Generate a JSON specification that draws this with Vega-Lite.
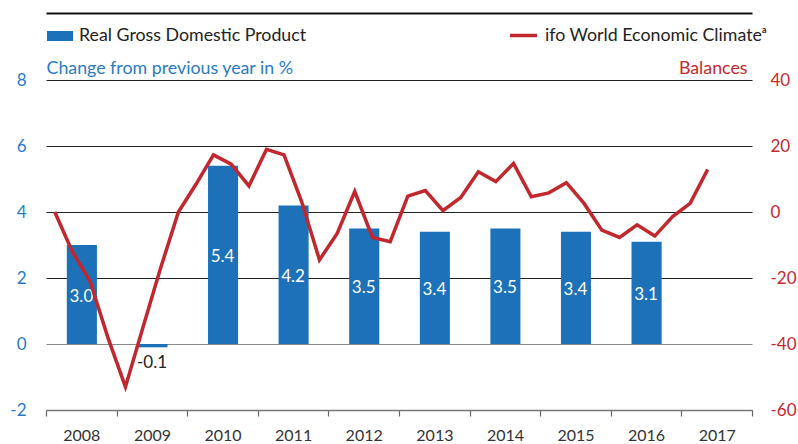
{
  "$schema": "https://vega.github.io/schema/vega-lite/v6.json",
  "width": 706,
  "height": 330,
  "autosize": {"type": "none"},
  "padding": {"left": 46, "top": 80, "right": 46, "bottom": 34},
  "config": {
    "view": {"stroke": null},
    "font": "Lato",
    "legend": {"padding": 0, "labelFont": "Lato", "labelFontSize": 17.8, "labelColor": "#222222", "labelLimit": 400, "labelOffset": 6}
  },
  "datasets": {
    "gdp": [
      {"year": "2008", "gdp": 3.0},
      {"year": "2009", "gdp": -0.1},
      {"year": "2010", "gdp": 5.4},
      {"year": "2011", "gdp": 4.2},
      {"year": "2012", "gdp": 3.5},
      {"year": "2013", "gdp": 3.4},
      {"year": "2014", "gdp": 3.5},
      {"year": "2015", "gdp": 3.4},
      {"year": "2016", "gdp": 3.1}
    ],
    "climate": [
      {"quarter": "2008-01-01", "climate": 0},
      {"quarter": "2008-04-01", "climate": -12},
      {"quarter": "2008-07-01", "climate": -21},
      {"quarter": "2008-10-01", "climate": -38},
      {"quarter": "2009-01-01", "climate": -53},
      {"quarter": "2009-04-01", "climate": -35},
      {"quarter": "2009-07-01", "climate": -17},
      {"quarter": "2009-10-01", "climate": 0},
      {"quarter": "2010-01-01", "climate": 8.4},
      {"quarter": "2010-04-01", "climate": 17.3},
      {"quarter": "2010-07-01", "climate": 14.5},
      {"quarter": "2010-10-01", "climate": 7.9},
      {"quarter": "2011-01-01", "climate": 19},
      {"quarter": "2011-04-01", "climate": 17.3},
      {"quarter": "2011-07-01", "climate": 3.1},
      {"quarter": "2011-10-01", "climate": -14.5},
      {"quarter": "2012-01-01", "climate": -6.5},
      {"quarter": "2012-04-01", "climate": 6.2},
      {"quarter": "2012-07-01", "climate": -7.7},
      {"quarter": "2012-10-01", "climate": -9},
      {"quarter": "2013-01-01", "climate": 4.8},
      {"quarter": "2013-04-01", "climate": 6.5},
      {"quarter": "2013-07-01", "climate": 0.4},
      {"quarter": "2013-10-01", "climate": 4.4},
      {"quarter": "2014-01-01", "climate": 12.2},
      {"quarter": "2014-04-01", "climate": 9.2},
      {"quarter": "2014-07-01", "climate": 14.7},
      {"quarter": "2014-10-01", "climate": 4.6},
      {"quarter": "2015-01-01", "climate": 5.8},
      {"quarter": "2015-04-01", "climate": 8.9},
      {"quarter": "2015-07-01", "climate": 2.6},
      {"quarter": "2015-10-01", "climate": -5.5},
      {"quarter": "2016-01-01", "climate": -7.7},
      {"quarter": "2016-04-01", "climate": -3.9},
      {"quarter": "2016-07-01", "climate": -7.3},
      {"quarter": "2016-10-01", "climate": -1.4},
      {"quarter": "2017-01-01", "climate": 2.6},
      {"quarter": "2017-04-01", "climate": 12.9}
    ]
  },
  "resolve": {"scale": {"y": "independent"}, "axis": {"x": "independent", "y": "independent"}},
  "layer": [
    {
      "data": {"name": "gdp"},
      "mark": {"type": "bar", "width": {"band": 0.44}},
      "encoding": {
        "x": {
          "field": "year", "type": "temporal", "timeUnit": "utcyear",
          "scale": {"type": "utc", "domain": [{"year": 2008, "utc": true}, {"year": 2018, "utc": true}]},
          "axis": {
            "orient": "bottom", "title": null, "grid": false,
            "values": [
              {"year": 2008, "utc": true}, {"year": 2009, "utc": true}, {"year": 2010, "utc": true},
              {"year": 2011, "utc": true}, {"year": 2012, "utc": true}, {"year": 2013, "utc": true},
              {"year": 2014, "utc": true}, {"year": 2015, "utc": true}, {"year": 2016, "utc": true},
              {"year": 2017, "utc": true}, {"year": 2018, "utc": true}
            ],
            "labelExpr": "utcFormat(datum.value, '%Y') === '2018' ? '' : utcFormat(datum.value, '%Y')",
            "labelOffset": 35.3, "labelFlush": false, "labelOverlap": false, "labelBound": false,
            "labelFontSize": 16, "labelColor": "#333333", "labelPadding": 11,
            "tickSize": 6, "tickColor": "#666666", "tickWidth": 1.2,
            "domainColor": "#777777", "domainWidth": 1.6
          }
        },
        "y": {
          "field": "gdp", "type": "quantitative",
          "scale": {"domain": [-2, 8], "nice": false, "zero": false},
          "axis": {
            "orient": "left", "values": [-2, 0, 2, 4, 6, 8],
            "labelExpr": "'' + datum.value",
            "grid": true, "gridWidth": 1.2,
            "gridColor": {"condition": {"test": "datum.value <= 0", "value": "#8a8a8a"}, "value": "#222222"},
            "domain": false, "ticks": false,
            "labelColor": "#2b7bc4", "labelFontSize": 17, "labelPadding": 20,
            "title": "Change from previous year in %", "titleAngle": 0, "titleAlign": "left",
            "titleBaseline": "alphabetic", "titleX": 0, "titleY": -7,
            "titleColor": "#2b7bc4", "titleFontSize": 17.8, "titleFontWeight": "normal", "titleFont": "Lato"
          }
        },
        "fill": {
          "datum": "Real Gross Domestic Product",
          "scale": {"range": ["#1d71b8"]},
          "legend": {
            "orient": "none", "legendX": 1, "legendY": -57, "title": null,
            "symbolType": "M-1,-0.385H1V0.385H-1Z", "symbolSize": 676,
            "symbolStrokeWidth": 0, "symbolOpacity": 1
          }
        }
      }
    },
    {
      "data": {"name": "gdp"},
      "transform": [{"filter": "datum.gdp > 0"}],
      "mark": {"type": "text", "color": "#ffffff", "fontSize": 17, "baseline": "middle", "dy": 2},
      "encoding": {
        "x": {"field": "year", "type": "temporal", "timeUnit": "utcyear", "bandPosition": 0.5, "axis": null},
        "y": {"field": "gdp", "type": "quantitative", "scale": {"domain": [-4, 16], "nice": false, "zero": false}, "axis": null},
        "text": {"field": "gdp", "type": "quantitative", "format": ".1f"}
      }
    },
    {
      "data": {"name": "gdp"},
      "transform": [{"filter": "datum.gdp < 0"}],
      "mark": {"type": "text", "color": "#222222", "fontSize": 17, "baseline": "middle", "dy": 16},
      "encoding": {
        "x": {"field": "year", "type": "temporal", "timeUnit": "utcyear", "bandPosition": 0.5, "axis": null},
        "y": {"field": "gdp", "type": "quantitative", "scale": {"domain": [-2, 8], "nice": false, "zero": false}, "axis": null},
        "text": {"field": "gdp", "type": "nominal"}
      }
    },
    {
      "data": {"name": "climate"},
      "mark": {"type": "line", "strokeWidth": 3.5, "strokeJoin": "miter"},
      "encoding": {
        "x": {
          "field": "quarter", "type": "temporal", "timeUnit": "utcyearquarter", "bandPosition": 0.5,
          "axis": {
            "orient": "top", "offset": 67, "title": null, "labels": false, "ticks": false, "grid": false,
            "domainColor": "#111111", "domainWidth": 2.2
          }
        },
        "y": {
          "field": "climate", "type": "quantitative",
          "scale": {"domain": [-60, 40], "nice": false, "zero": false},
          "axis": {
            "orient": "right", "values": [-60, -40, -20, 0, 20, 40],
            "labelExpr": "'' + datum.value",
            "grid": false, "domain": false, "ticks": false,
            "labelColor": "#c8282e", "labelFontSize": 17, "labelPadding": 18,
            "title": "Balances", "titleAngle": 0, "titleAlign": "right",
            "titleBaseline": "alphabetic", "titleX": -5, "titleY": -7,
            "titleColor": "#c8282e", "titleFontSize": 17.8, "titleFontWeight": "normal", "titleFont": "Lato"
          }
        },
        "stroke": {
          "datum": "ifo World Economic Climateᵃ",
          "scale": {"range": ["#c1272d"]},
          "legend": {
            "orient": "none", "legendX": 462, "legendY": -60, "title": null,
            "symbolType": "stroke", "symbolSize": 729, "symbolStrokeWidth": 3.5
          }
        }
      }
    }
  ]
}
